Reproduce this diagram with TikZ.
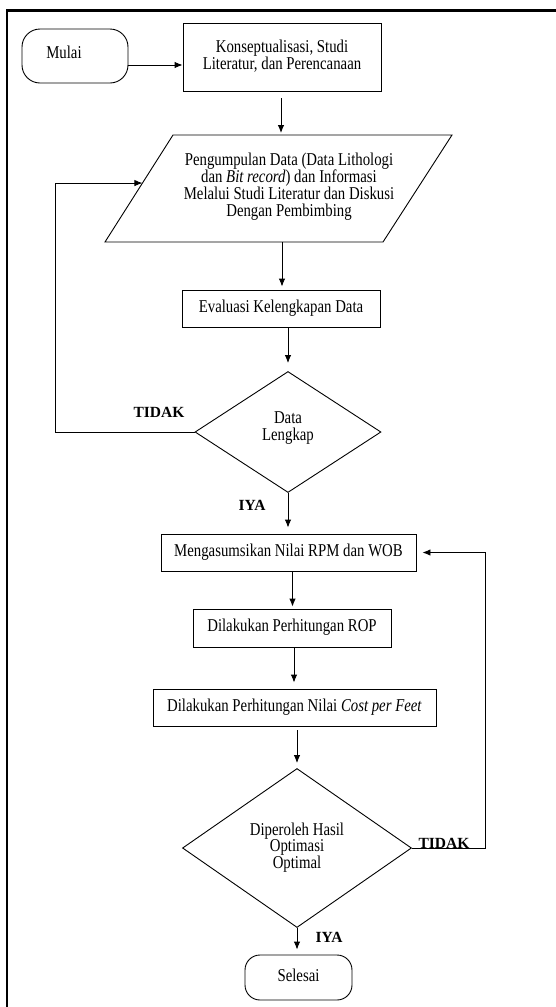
\documentclass[tikz,border=0pt]{standalone}
\usepackage{fontspec}
\usepackage{graphicx}
\setmainfont{Liberation Serif}
\usetikzlibrary{shapes.geometric,arrows.meta,calc}
% tall, narrow text lines as set in the flowchart boxes
\newcommand\boxtext[1]{\scalebox{1}[1.22]{\begin{tabular}{@{}c@{}}#1\end{tabular}}}
\begin{document}
\begin{tikzpicture}[x=1pt,y=-1pt,
  line width=0.9pt,
  font=\fontsize{14.8}{12.5}\selectfont,
  procbox/.style={draw,rectangle,inner sep=0pt},
  term/.style={draw,rectangle,rounded corners=18pt,inner sep=0pt},
  decide/.style={draw,diamond,inner sep=0pt},
  arr/.style={-{Latex[length=8pt,width=6.5pt]}},
  answer/.style={font=\fontsize{15.5}{16}\selectfont\bfseries}]
\useasboundingbox (0,0) rectangle (556,1007);

% page frame
\draw[line width=2.5pt,line join=miter] (7,1007) -- (7,10.7) -- (556,10.7);

% terminals and process boxes
\node[term,minimum width=106pt,minimum height=54pt] (mulai) at (75,56) {};
\node at (64,55) {\boxtext{Mulai}};
\node[procbox,minimum width=198pt,minimum height=68pt] (konsep) at (282,57)
  {\boxtext{Konseptualisasi, Studi\\Literatur, dan Perencanaan}};

% data input parallelogram
\coordinate (pTL) at (173,135);
\coordinate (pTR) at (452,135);
\coordinate (pBR) at (383,242);
\coordinate (pBL) at (105,242);
\draw (pTL) -- (pTR) -- (pBR) -- (pBL) -- cycle;
\node (data) at (289,187) {\boxtext{Pengumpulan Data (Data Lithologi\\dan \textit{Bit record}) dan Informasi\\Melalui Studi Literatur dan Diskusi\\Dengan Pembimbing}};
\coordinate (pTop) at (281,135);
\coordinate (pBot) at (282,242);
\coordinate (pIn) at ($(pBL)!0.551!(pTL)$);

\node[procbox,minimum width=198pt,minimum height=37pt] (eval) at (281,308.5)
  {\boxtext{Evaluasi Kelengkapan Data}};
\node[decide,minimum width=186pt,minimum height=121pt] (d1) at (288,432) {};
\node at (288,428) {\boxtext{Data\\Lengkap}};

\node[procbox,minimum width=255pt,minimum height=37pt] (meng) at (288.5,552.5)
  {\boxtext{Mengasumsikan Nilai RPM dan WOB}};
\node[procbox,minimum width=198pt,minimum height=38pt] (rop) at (292,628)
  {\boxtext{Dilakukan Perhitungan ROP}};
\node[procbox,minimum width=283pt,minimum height=37pt] (cost) at (294.5,707.5)
  {\boxtext{Dilakukan Perhitungan Nilai \textit{Cost per Feet}}};
\node[decide,minimum width=229pt,minimum height=159pt] (d2) at (297,848) {};
\node at (297,848) {\boxtext{Diperoleh Hasil\\Optimasi\\Optimal}};
\node[term,rounded corners=15pt,minimum width=107pt,minimum height=45pt] (selesai) at (298.5,977.5)
  {\boxtext{Selesai}};

% loop corners
\coordinate (loopL) at (55,432);
\coordinate (loopR) at (485,848);

% connectors
\draw[arr] ([yshift=-9pt]mulai.east) -- ([yshift=-9pt]mulai.east -| konsep.west);
\draw[arr,shorten >=2pt] ([yshift=-7pt]konsep.south -| pTop) -- (pTop);
\draw[arr,shorten >=3pt] (pBot) -- (pBot |- eval.north);
\draw[arr,shorten >=8pt] (d1.north |- eval.south) -- (d1.north);
\draw[arr] (d1.west) -- (loopL) |- (pIn);
\draw[arr,shorten >=6pt] (d1.south) -- (d1.south |- meng.north);
\draw[arr,shorten >=2pt] ([xshift=4pt]meng.south) -- ([xshift=4pt]meng.south |- rop.north);
\draw[arr,shorten >=6pt] ([xshift=2pt]rop.south) -- ([xshift=2pt]rop.south |- cost.north);
\draw[arr,shorten >=5pt] ([yshift=-4pt]d2.north |- cost.south) -- (d2.north);
\draw[arr,shorten >=6pt] (d2.east) -- (loopR) |- (meng.east);
\draw[arr,shorten >=5pt] (d2.south) -- (d2.south |- selesai.north);

% branch labels
\node[answer] at (159,412) {TIDAK};
\node[answer] at (252,505) {IYA};
\node[answer] at (444,843) {TIDAK};
\node[answer] at (329,937) {IYA};
\end{tikzpicture}
\end{document}
